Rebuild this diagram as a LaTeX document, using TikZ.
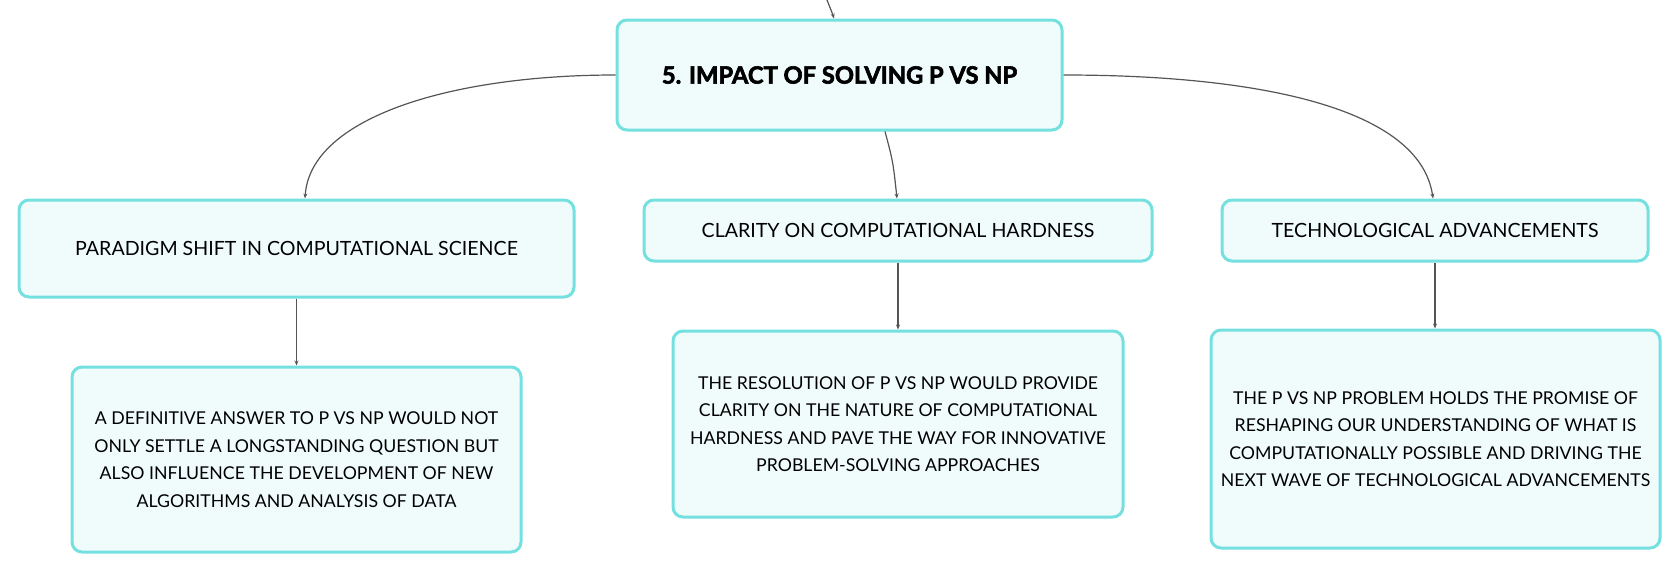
\documentclass[tikz,border=0pt]{standalone}
\usepackage{fontspec}
\setmainfont{Lato}
\newfontfamily\titlefont[BoldFeatures={FakeBold=2.6}]{Lato}
\usetikzlibrary{arrows.meta}
\definecolor{boxborder}{HTML}{74E0E0}
\definecolor{boxfill}{HTML}{F0FCFC}
\definecolor{linegray}{HTML}{555555}
\tikzset{
  mapbox/.style={draw=boxborder, fill=boxfill, line width=3pt, rounded corners=10pt,
    inner sep=0pt, align=center, text=black},
  childbox/.style={mapbox, font=\fontsize{19.6pt}{27pt}\selectfont},
  leafbox/.style={mapbox, font=\fontsize{17.7pt}{27.5pt}\selectfont},
  titlebox/.style={mapbox, font=\titlefont\fontsize{23.7pt}{28pt}\selectfont\bfseries},
  conn/.style={draw=linegray, line width=1.2pt, -{Stealth[length=5pt,width=4pt]}},
}
\begin{document}
\begin{tikzpicture}[x=1pt,y=-1pt]
\useasboundingbox (0,0) rectangle (1680,573);
\node[titlebox, minimum width=445pt, minimum height=110pt] (main) at (839.5,75) {5. IMPACT OF SOLVING P VS NP};
\node[childbox, minimum width=555pt, minimum height=97pt] (c1) at (296.5,248.5) {PARADIGM SHIFT IN COMPUTATIONAL SCIENCE};
\node[childbox, minimum width=508pt, minimum height=61pt] (c2) at (898,230.5) {CLARITY ON COMPUTATIONAL HARDNESS};
\node[childbox, minimum width=426pt, minimum height=61pt] (c3) at (1435,230.5) {TECHNOLOGICAL ADVANCEMENTS};
\node[leafbox, minimum width=449pt, minimum height=185pt] (l1) at (296.5,459.5) {A DEFINITIVE ANSWER TO P VS NP WOULD NOT\\ONLY SETTLE A LONGSTANDING QUESTION BUT\\ALSO INFLUENCE THE DEVELOPMENT OF NEW\\ALGORITHMS AND ANALYSIS OF DATA};
\node[leafbox, minimum width=450pt, minimum height=186pt] (l2) at (898,424) {THE RESOLUTION OF P VS NP WOULD PROVIDE\\CLARITY ON THE NATURE OF COMPUTATIONAL\\HARDNESS AND PAVE THE WAY FOR INNOVATIVE\\PROBLEM-SOLVING APPROACHES};
\node[leafbox, minimum width=449pt, minimum height=218pt] (l3) at (1435.5,439) {THE P VS NP PROBLEM HOLDS THE PROMISE OF\\RESHAPING OUR UNDERSTANDING OF WHAT IS\\COMPUTATIONALLY POSSIBLE AND DRIVING THE\\NEXT WAVE OF TECHNOLOGICAL ADVANCEMENTS};
\coordinate (top) at (827,0);
\draw[conn] (top) .. controls (831,8) .. ([xshift=-5.5pt]main.north);
\draw[conn] (main.west) .. controls +(-167,0) and +(5,-80) .. ([xshift=8.5pt]c1.north);
\draw[conn] (main.east) .. controls +(197,0) and +(-13,-90) .. ([xshift=-2pt]c3.north);
\draw[conn] ([xshift=45.5pt]main.south) .. controls +(8,30) .. ([xshift=-1pt]c2.north);
\draw[conn] (c1.south) -- (c1.south |- l1.north);
\draw[conn] (c2.south) -- (c2.south |- l2.north);
\draw[conn] (c3.south) -- (c3.south |- l3.north);
\end{tikzpicture}
\end{document}
